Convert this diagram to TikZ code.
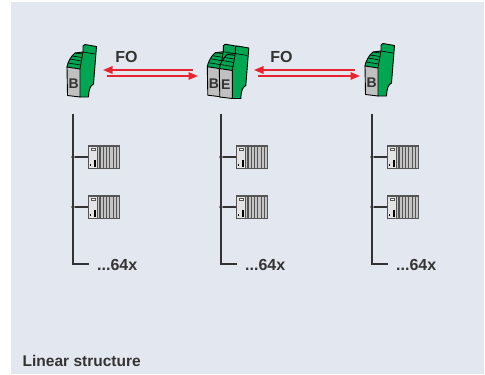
\documentclass[tikz,border=0pt]{standalone}
\usepackage{fontspec}
\setmainfont{Liberation Sans}
\usetikzlibrary{arrows.meta}
\definecolor{bgc}{RGB}{227,232,240}
\definecolor{modgreen}{RGB}{0,166,81}
\definecolor{modgray}{RGB}{192,192,192}
\definecolor{fored}{RGB}{232,36,46}
\definecolor{txt}{RGB}{51,51,51}
\definecolor{plcd}{RGB}{85,85,85}
\definecolor{plcl}{RGB}{196,196,196}
\tikzset{
  lbl/.style={font=\bfseries\fontsize{16}{16}\selectfont, text=txt, inner sep=0pt},
  modlbl/.style={font=\bfseries\fontsize{14}{14}\selectfont, text=txt, inner sep=0pt},
  bus/.style={draw=txt, line width=1.1pt},
  foarrow/.style={draw=fored, line width=1.6pt, -{Triangle[length=9.5pt,width=7.5pt]}},
  jdot/.style={circle, fill=txt, inner sep=0pt, minimum size=3.6pt},
  plcbox/.style={minimum width=32pt, minimum height=24pt, inner sep=0pt},
  pics/cell/.style={code={
    \draw[fill=modgreen, line join=round, line width=0.9pt]
      (0,0) -- (1,-4) -- (3,-8) -- (5,-11) -- (8,-14) -- (16,-15) -- (16,-21)
      -- (18,-22.5) -- (29.5,-20.5) -- (26.5,17) .. controls (23,19) and (22,22) .. (21.5,30)
      -- (13,30) -- cycle;
    \draw[line width=0.6pt] (1,-4) -- (13.6,-2) (3,-8) -- (14.3,-6)
      (5,-11) -- (15,-9.5) (8,-14) -- (15.6,-13) (16,-15) -- (28,-13);
    \draw[line width=0.8pt] (13,2) -- (16,-15);
    \draw[fill=modgray, line join=round, line width=0.9pt]
      (0,0) -- (13,2) -- (13,30) -- (0.5,28.5) -- cycle;
    \node[modlbl] (-l) at (6.6,16.5) {#1};
  }},
  pics/plc/.style={code={
    \fill[plcd] (0,0) rectangle (32,24);
    \fill[plcl] (0.8,1.8) rectangle (31.2,23.2);
    \fill[white!55!plcl] (1,2) rectangle (9,23);
    \draw[plcd, line width=0.5pt] (9,1.8) -- (9,23.2);
    \fill[plcd] (3,3) rectangle (8,6.5);
    \fill[white] (3.8,3.8) rectangle (7.2,5.6);
    \fill[black] (6,15) rectangle (8,22);
    \fill[black] (2,19) rectangle (3,21.5);
    \foreach \xx in {11.5,14.8,18.1,21.4,24.7,28} {\fill[plcd] (\xx,1.8) rectangle ++(1.2,21.4);}
  }}
}
\begin{document}
\begin{tikzpicture}[x=1pt,y=-1pt]
\useasboundingbox (0,0) rectangle (485,375);
\fill[bgc] (11,2) rectangle (484,374);

% modules
\pic (m1) at (67,67) {cell=B};
\pic (m2a) at (207.3,66.7) {cell=B};
\pic (m2b) at (219.3,68.5) {cell=E};
\pic (m3) at (365,66) {cell=B};

% FO labels
\node[lbl] (fo1) at (126.5,56.5) {FO};
\node[lbl] (fo2) at (281.5,56.5) {FO};

% FO arrows
\coordinate (a1s) at (193,70); \coordinate (a1e) at (103,70);
\coordinate (a2s) at (107,76); \coordinate (a2e) at (198,76);
\coordinate (a3s) at (355,70); \coordinate (a3e) at (254,70);
\coordinate (a4s) at (258,76); \coordinate (a4e) at (360,76);
\draw[foarrow] (a1s) -- (a1e);
\draw[foarrow] (a2s) -- (a2e);
\draw[foarrow] (a3s) -- (a3e);
\draw[foarrow] (a4s) -- (a4e);

% buses
\foreach \bx/\n in {73/1,221/2,372/3} {
  \coordinate (top\n) at (\bx,114);
  \coordinate (bot\n) at (\bx,264);
  \coordinate (end\n) at (\bx+16,264);
  \draw[bus] (top\n) -- (bot\n) -- (end\n);
  \node[lbl, anchor=base west] (cnt\n) at (\bx+24,270) {...64x};
  \node[jdot] (j\n a) at (\bx,157) {};
  \node[jdot] (j\n b) at (\bx,207) {};
  \node[plcbox] (d\n a) at (\bx+31,157) {};
  \node[plcbox] (d\n b) at (\bx+31,207) {};
  \pic at (d\n a.north west) {plc};
  \pic at (d\n b.north west) {plc};
  \draw[bus] (j\n a) -- (d\n a.west);
  \draw[bus] (j\n b) -- (d\n b.west);
}

\node[lbl, font=\bfseries\fontsize{15.5}{15.5}\selectfont, anchor=base west] (title) at (22.5,366) {Linear structure};
\end{tikzpicture}
\end{document}
